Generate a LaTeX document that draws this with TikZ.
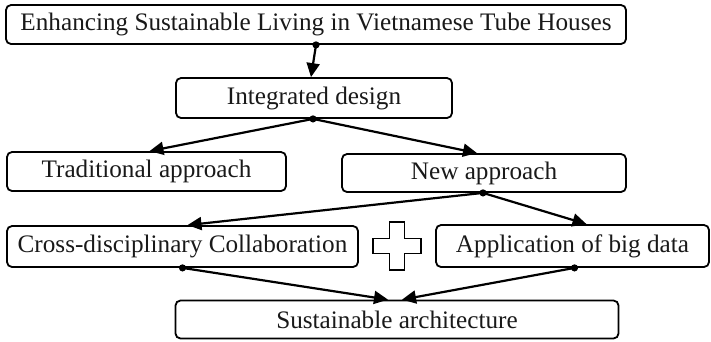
\documentclass[tikz,border=0pt]{standalone}
\usepackage{fontspec}
\setmainfont{Liberation Serif}
\usetikzlibrary{arrows.meta}
\begin{document}
\begin{tikzpicture}[x=1pt,y=-1pt,
  box/.style={draw=black,line width=1.8pt,rounded corners=5pt,inner sep=0pt,
    font=\fontsize{25.2}{28}\selectfont,text=black!90},
  conn/.style={line width=2.2pt,-{Triangle[length=14pt,width=13pt]}},
  dotc/.style={fill=black}]
\useasboundingbox (0,0) rectangle (711,341);
\node[box,minimum width=620pt,minimum height=39pt] (top) at (316,24.5) {Enhancing Sustainable Living in Vietnamese Tube Houses};
\node[box,minimum width=276pt,minimum height=40pt] (integ) at (314,98) {Integrated design};
\node[box,minimum width=279pt,minimum height=39pt] (trad) at (146.5,171.5) {Traditional approach};
\node[box,minimum width=284pt,minimum height=38pt] (new) at (484,173) {New approach};
\node[box,minimum width=351pt,minimum height=41pt] (cross) at (182.5,246.5) {Cross-disciplinary Collaboration};
\node[box,minimum width=273pt,minimum height=42pt] (app) at (572.5,246) {Application of big data};
\node[box,minimum width=443pt,minimum height=38pt] (sust) at (397,319.5) {Sustainable architecture};
% plus sign
\draw[line width=1.8pt] (389.5,222) -- (404.5,222) -- (404.5,238.5) -- (421,238.5) -- (421,253.5) -- (404.5,253.5) -- (404.5,270) -- (389.5,270) -- (389.5,253.5) -- (373,253.5) -- (373,238.5) -- (389.5,238.5) -- cycle;
% connectors
\draw[conn] (top.south) -- ([xshift=-3pt]integ.north);
\draw[conn] ([xshift=-1pt]integ.south) -- ([xshift=3pt]trad.north);
\draw[conn] ([xshift=-1pt]integ.south) -- ([xshift=-7pt]new.north);
\draw[conn] ([xshift=-1pt]new.south) -- ([xshift=5pt]cross.north);
\draw[conn] ([xshift=-1pt]new.south) -- ([xshift=14pt]app.north);
\draw[conn] (cross.south) -- ([xshift=-9pt]sust.north);
\draw[conn] ([xshift=2pt]app.south) -- ([xshift=5pt]sust.north);
% dots
\fill[dotc] (top.south) circle (3.6pt);
\fill[dotc] ([xshift=-1pt]integ.south) circle (3.6pt);
\fill[dotc] ([xshift=-1pt]new.south) circle (3.6pt);
\fill[dotc] (cross.south) circle (3.6pt);
\fill[dotc] ([xshift=2pt]app.south) circle (3.6pt);
\end{tikzpicture}
\end{document}
